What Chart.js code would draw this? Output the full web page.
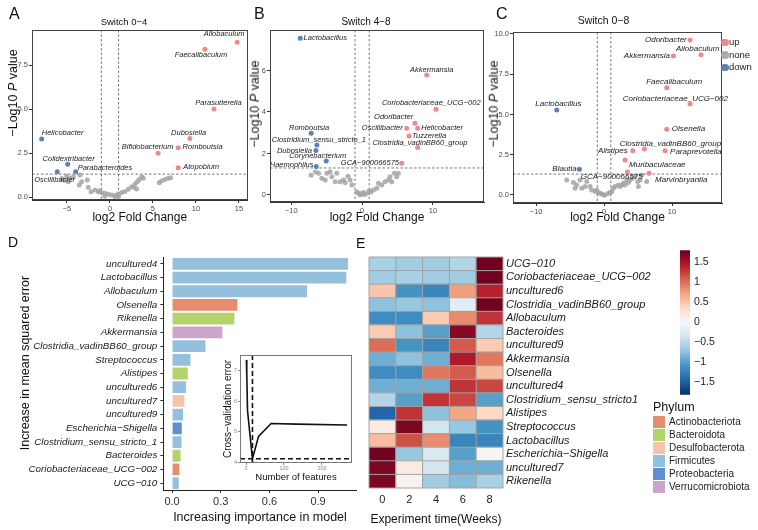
<!DOCTYPE html>
<html>
<head>
<meta charset="utf-8">
<script src="https://cdn.jsdelivr.net/npm/chart.js@4.4.1/dist/chart.umd.min.js"></script>
<style>
  body { margin: 0; background: #fff; font-family: "Liberation Sans", Arial, sans-serif; }
  #wrap { position: relative; width: 758px; height: 530px; overflow: hidden; }
  canvas { position: absolute; }
  .txt { position: absolute; white-space: nowrap; color: #111; line-height: 1; }
  .ytitle { position: absolute; white-space: nowrap; color: #111; transform: translate(-50%, -50%) rotate(-90deg); line-height: 1; }
</style>
</head>
<body>
<div id="wrap">
  <canvas id="cA" width="250" height="228" style="left:0;top:0"></canvas>
  <canvas id="cB" width="247" height="228" style="left:248px;top:0"></canvas>
  <canvas id="cC" width="273" height="228" style="left:485px;top:0"></canvas>
  <canvas id="cD" width="370" height="302" style="left:0;top:228px"></canvas>
  <canvas id="cIn" width="148" height="135" style="left:212px;top:350px"></canvas>
  <canvas id="cE" width="300" height="302" style="left:360px;top:228px"></canvas>
  <canvas id="cBar" width="60" height="165" style="left:670px;top:240px"></canvas>

  <div class="txt" style="left:9px;top:6px;font-size:16px">A</div>
  <div class="txt" style="left:254px;top:6px;font-size:16px">B</div>
  <div class="txt" style="left:496px;top:6px;font-size:16px">C</div>
  <div class="txt" style="left:8px;top:235px;font-size:14px">D</div>
  <div class="txt" style="left:356px;top:236px;font-size:14px">E</div>

  <div class="ytitle" style="left:13px;top:93px;font-size:12.5px">&minus;Log10 <i>P</i> value</div>
  <div class="ytitle" style="left:255px;top:104px;font-size:12.5px">&minus;Log10 <i>P</i> value</div>
  <div class="ytitle" style="left:494px;top:104px;font-size:12.5px">&minus;Log10 <i>P</i> value</div>
  <div class="ytitle" style="left:25px;top:363px;font-size:12.5px">Increase in mean squared error</div>
  <div id="legC"></div>
  <div id="legPhylum"></div>
</div>

<script>
const FONT = '"Liberation Sans", Arial, sans-serif';
Chart.defaults.font.family = FONT;
Chart.defaults.color = '#222';

// thresholds used in the volcano plots
const fcCut = 1;
const pCut = 1.3;

// A: Switch 0-4 (labelled genera)
const aNames = ['Allobaculum', 'Faecalibaculum', 'Parasutterella', 'Dubosiella', 'Romboutsia', 'Bifidobacterium', 'Atopobium', 'Helicobacter', 'Colidextribacter', 'Parabacteroides', 'Oscillibacter'];
const aFC = [14.8, 11.05, 12.1, 9.3, 7.94, 5.6, 7.94, -7.94, -4.92, -3.99, -6.13];
const aP = [8.8, 8.4, 5.0, 3.33, 2.8, 2.48, 1.66, 3.3, 1.86, 1.44, 1.44];
// A: the rest (not significant)
const aGreyFC = [-5.04, -4.65, -4.26, -4.84, -3.49, -3.3, -3.57, -2.64, -2.52, -1.74, -1.36, -0.97, -0.58, -0.19, 0.19, 0.58, 0.97, 1.36, 1.74, 2.13, 2.52, 2.91, 3.18, 3.41, 3.68, 3.88, 5.74, 6.01, 6.4, 6.78, 7.05, -5.3, -5.6, -2.2, -1.2, -0.6, 0.6, 1.0, 2.8, 3.1];
const aGreyP = [1.19, 1.06, 1.15, 0.87, 1.25, 0.87, 0.68, 0.97, 0.55, 0.4, 0.3, 0.25, 0.21, 0.15, 0.11, 0.1, 0.17, 0.25, 0.32, 0.44, 0.59, 0.74, 0.87, 1.0, 1.15, 1.06, 0.81, 0.93, 1.0, 1.06, 1.1, 0.95, 1.05, 0.3, 0.35, 0.05, 0.02, 0.05, 0.55, 0.45];

// B: Switch 4-8
const bNames = ['Lactobacillus', 'Akkermansia', 'Coriobacteriaceae_UCG\u2212002', 'Odoribacter', 'Oscillibacter', 'Helicobacter', 'Tuzzerella', 'Clostridia_vadinBB60_group', 'GCA\u2212900066575', 'Romboutsia', 'Clostridium_sensu_stricto_1', 'Dubosiella', 'Corynebacterium', 'Haemophilus'];
const bFC = [-8.73, 9.11, 10.42, 7.46, 6.29, 7.84, 6.62, 7.84, 5.59, -7.18, -6.38, -6.52, -5.07, -6.48];
const bP = [7.55, 5.78, 4.13, 3.45, 3.21, 3.21, 2.84, 2.29, 1.53, 2.97, 2.41, 2.14, 1.64, 1.37];
const bGreyFC = [-6.15, -5.68, -5.21, -4.98, -4.51, -4.27, -3.8, -3.57, -3.1, -2.63, -2.39, -1.69, -1.45, -0.75, -0.52, -0.28, 0.05, 0.42, 0.89, 1.27, 1.6, 2.07, 2.3, 2.77, 3.24, 3.71, 3.94, 4.18, 4.55, 4.88, 5.11, -7.2, -6.6, -2.0, 0.2, -0.1, 1.0];
const bGreyP = [1.05, 0.8, 0.72, 1.05, 1.12, 0.88, 0.64, 1.05, 0.64, 0.72, 0.59, 0.72, 0.48, 0.16, 0.08, 0.0, 0.05, 0.02, 0.11, 0.16, 0.24, 0.32, 0.56, 0.48, 0.64, 0.72, 0.88, 0.64, 1.05, 0.88, 1.05, 0.95, 1.1, 0.9, 0.12, 0.07, 0.2];

// C: Switch 0-8
const cNames = ['Odoribacter', 'Allobaculum', 'Akkermansia', 'Faecalibaculum', 'Coriobacteriaceae_UCG\u2212002', 'Olsenella', 'Clostridia_vadinBB60_group', 'Alistipes', 'Paraprevotella', 'Muribaculaceae', 'GCA\u2212900066575', 'Marvinbryantia', 'Lactobacillus', 'Blautia'];
const cFC = [12.65, 14.26, 10.19, 9.22, 12.65, 9.22, 5.93, 4.22, 8.97, 3.09, 3.43, 6.62, -6.96, -3.63];
const cP = [9.63, 8.7, 8.63, 6.66, 5.65, 4.08, 2.86, 2.75, 2.75, 2.17, 1.43, 1.35, 5.28, 1.6];
const cGreyFC = [-5.49, -4.51, -4.26, -4.02, -3.53, -3.28, -2.79, -2.55, -2.06, -1.81, -1.32, -1.08, -0.83, -0.59, -0.34, -0.1, 0.15, 0.64, 0.88, 1.13, 1.37, 1.62, 2.1, 2.35, 2.6, 2.84, 3.09, 3.33, 3.58, 3.82, 4.17, 4.56, 4.95, 5.29, 5.54, 6.27, 5.05];
const cGreyP = [0.93, 0.77, 0.41, 0.62, 0.93, 0.41, 0.52, 0.83, 0.52, 0.31, 0.21, 0.31, 0.14, 0.1, 0.06, 0.0, 0.0, 0.1, 0.14, 0.21, 0.41, 0.52, 0.62, 0.52, 0.62, 0.72, 0.62, 0.93, 0.77, 0.93, 1.03, 1.14, 0.83, 0.93, 1.24, 0.83, 0.52];

// D: random forest importance
const dGenus = ['uncultured4', 'Lactobacillus', 'Allobaculum', 'Olsenella', 'Rikenella', 'Akkermansia', 'Clostridia_vadinBB60_group', 'Streptococcus', 'Alistipes', 'uncultured6', 'uncultured7', 'uncultured9', 'Escherichia\u2212Shigella', 'Clostridium_sensu_stricto_1', 'Bacteroides', 'Coriobacteriaceae_UCG\u2212002', 'UCG\u2212010'];
const dImportance = [1.084, 1.074, 0.832, 0.403, 0.384, 0.310, 0.206, 0.113, 0.097, 0.086, 0.076, 0.068, 0.060, 0.058, 0.052, 0.045, 0.041];
const dPhylum = ['Firmicutes', 'Firmicutes', 'Firmicutes', 'Actinobacteriota', 'Bacteroidota', 'Verrucomicrobiota', 'Firmicutes', 'Firmicutes', 'Bacteroidota', 'Firmicutes', 'Desulfobacterota', 'Firmicutes', 'Proteobacteria', 'Firmicutes', 'Bacteroidota', 'Actinobacteriota', 'Firmicutes'];
const dTicks = [0, 0.3, 0.6, 0.9];

// D inset: cross-validation
const cvFeatures = [1, 2, 4, 8, 17, 33, 66, 133, 266];
const cvError = [7.35, 6.9, 5.7, 5.2, 4.12, 4.85, 5.27, 5.25, 5.22];
const cvBest = 17;
const cvMin = 4.12;

// E: heatmap, rows top to bottom, columns = weeks
const hmRows = ['UCG\u2212010', 'Coriobacteriaceae_UCG\u2212002', 'uncultured6', 'Clostridia_vadinBB60_group', 'Allobaculum', 'Bacteroides', 'uncultured9', 'Akkermansia', 'Olsenella', 'uncultured4', 'Clostridium_sensu_stricto1', 'Alistipes', 'Streptococcus', 'Lactobacillus', 'Escherichia\u2212Shigella', 'uncultured7', 'Rikenella'];
const hmWeeks = ['0', '2', '4', '6', '8'];
const hmValues = [
  [-0.6, -0.65, -0.65, -0.55, 1.75],
  [-0.65, -0.6, -0.65, -0.65, 1.75],
  [0.5, -1.1, -1.2, 0.75, 1.4],
  [-0.75, -0.7, -0.75, -0.2, 1.75],
  [-1.15, -1.15, 0.45, 0.85, 1.3],
  [0.45, -0.75, -1.0, 1.65, -0.55],
  [1.0, -1.1, -1.2, 1.1, 0.45],
  [-0.9, -0.75, -0.9, 1.45, 0.95],
  [-1.15, -1.15, 0.95, 1.1, 0.55],
  [-0.9, -0.9, -0.9, 1.3, 1.2],
  [-0.55, -1.0, 1.3, 1.2, -1.0],
  [-1.45, 1.3, -0.75, 0.7, 0.35],
  [0.15, 1.7, -0.35, -0.7, -1.1],
  [0.55, 1.15, 0.85, -1.2, -1.2],
  [1.75, -0.7, -0.3, -1.0, 0.02],
  [1.7, 0.15, -0.35, -0.9, -0.9],
  [1.7, 0.05, -0.65, -0.8, -0.6]
];
const cbTicks = [-1.5, -1, -0.5, 0, 0.5, 1, 1.5];
const cbMin = -1.82, cbMax = 1.8;

const phyla = ['Actinobacteriota', 'Bacteroidota', 'Desulfobacterota', 'Firmicutes', 'Proteobacteria', 'Verrucomicrobiota'];
const phylumColor = {
  Actinobacteriota: '#E68D6E', Bacteroidota: '#B3D46B', Desulfobacterota: '#F6C3AC',
  Firmicutes: '#93C0DC', Proteobacteria: '#608FD0', Verrucomicrobiota: '#CDA4CB'
};
const colUp = '#EF8A88', colNone = 'rgba(165,165,165,0.85)', colDown = '#5C80B9';
const rdbu = ['#053061', '#2166AC', '#4393C3', '#92C5DE', '#D1E5F0', '#F7F7F7', '#FDDBC7', '#F4A582', '#D6604D', '#B2182B', '#67001F'];

function minus(v) { return String(v).replace('-', '\u2212'); }

function hex2rgb(h) { return [1, 3, 5].map(i => parseInt(h.substr(i, 2), 16)); }
function heatColor(v) {
  let t = (v - cbMin) / (cbMax - cbMin) * (rdbu.length - 1);
  t = Math.max(0, Math.min(rdbu.length - 1, t));
  const i = Math.min(Math.floor(t), rdbu.length - 2), f = t - i;
  const a = hex2rgb(rdbu[i]), b = hex2rgb(rdbu[i + 1]);
  return 'rgb(' + a.map((c, k) => Math.round(c + (b[k] - c) * f)).join(',') + ')';
}

function frame(color) {
  return { id: 'frame', afterDraw(chart) {
    const a = chart.chartArea, ctx = chart.ctx;
    ctx.save();
    ctx.strokeStyle = color; ctx.lineWidth = 1;
    ctx.strokeRect(Math.round(a.left) + 0.5, Math.round(a.top) + 0.5, Math.round(a.right - a.left) - 1, Math.round(a.bottom - a.top) - 1);
    ctx.restore();
  }};
}

const threshLines = { id: 'thresh', beforeDatasetsDraw(chart) {
  const { ctx, chartArea: a, scales: { x, y } } = chart;
  ctx.save();
  ctx.strokeStyle = '#555'; ctx.lineWidth = 0.8; ctx.setLineDash([2.5, 2]);
  [-fcCut, fcCut].forEach(v => {
    const px = x.getPixelForValue(v);
    ctx.beginPath(); ctx.moveTo(px, a.top); ctx.lineTo(px, a.bottom); ctx.stroke();
  });
  const py = y.getPixelForValue(pCut);
  ctx.beginPath(); ctx.moveTo(a.left, py); ctx.lineTo(a.right, py); ctx.stroke();
  ctx.restore();
}};

function pointLabels(names, fc, p, pos, size) {
  return { id: 'pointLabels', afterDatasetsDraw(chart) {
    const { ctx, scales: { x, y } } = chart;
    ctx.save();
    ctx.font = 'italic ' + size + 'px ' + FONT;
    ctx.fillStyle = '#1a1a1a';
    ctx.textBaseline = 'middle';
    names.forEach((n, i) => {
      ctx.textAlign = pos[i][2];
      ctx.fillText(n, x.getPixelForValue(fc[i]) + pos[i][0], y.getPixelForValue(p[i]) + pos[i][1]);
    });
    ctx.restore();
  }};
}

function volcano(id, o) {
  const up = [], down = [], none = [];
  o.fc.forEach((v, i) => {
    const pt = { x: v, y: o.p[i] };
    if (o.p[i] > pCut && v > fcCut) up.push(pt);
    else if (o.p[i] > pCut && v < -fcCut) down.push(pt);
    else none.push(pt);
  });
  o.greyFC.forEach((v, i) => none.push({ x: v, y: o.greyP[i] }));
  const pt = { pointRadius: 2.5, borderWidth: 0, pointHoverRadius: 2.5 };
  new Chart(document.getElementById(id), {
    type: 'scatter',
    data: { datasets: [
      Object.assign({ label: 'none', data: none, backgroundColor: colNone }, pt),
      Object.assign({ label: 'up', data: up, backgroundColor: colUp }, pt),
      Object.assign({ label: 'down', data: down, backgroundColor: colDown }, pt)
    ]},
    options: {
      responsive: false, animation: false,
      layout: { padding: { left: 0, right: o.padRight, top: 0, bottom: 0 } },
      plugins: {
        legend: { display: false }, tooltip: { enabled: false },
        title: { display: true, text: o.title, color: '#111', font: { size: o.titleSize, weight: 'normal' },
                 padding: { top: o.titleTop, bottom: o.areaTop - o.titleTop - o.titleSize * 1.2 } }
      },
      scales: {
        x: {
          type: 'linear', min: o.xr[0], max: o.xr[1],
          afterBuildTicks: s => { s.ticks = o.xTicks.map(v => ({ value: v })); },
          afterFit: s => { s.height = 228 - o.areaBottom; },
          ticks: { font: { size: o.tickSize }, color: '#4d4d4d', padding: 1, maxRotation: 0, callback: v => minus(v) },
          grid: { drawOnChartArea: false, tickLength: 3, color: '#333' },
          border: { color: '#333' },
          title: { display: true, text: 'log2 Fold Change', color: '#111', font: { size: 12 }, padding: { top: 0, bottom: 3 } }
        },
        y: {
          type: 'linear', min: o.yr[0], max: o.yr[1],
          afterBuildTicks: s => { s.ticks = o.yTicks.map(v => ({ value: v })); },
          afterFit: s => { s.width = o.yWidth; },
          ticks: { font: { size: o.tickSize }, color: '#4d4d4d', padding: 1, callback: v => o.yDec ? v.toFixed(1) : String(v) },
          grid: { drawOnChartArea: false, tickLength: 3, color: '#333' },
          border: { color: '#333' }
        }
      }
    },
    plugins: [threshLines, pointLabels(o.names, o.fc, o.p, o.labelPos, o.labelSize), frame('#444')]
  });
}

volcano('cA', {
  title: 'Switch 0\u22124', titleSize: 9.5, titleTop: 17, areaTop: 30, areaBottom: 200,
  names: aNames, fc: aFC, p: aP, greyFC: aGreyFC, greyP: aGreyP,
  labelPos: [[-13, -8, 'center'], [-4, 5.5, 'center'], [4.5, -6.3, 'center'], [-1.3, -5, 'center'], [4.4, -1, 'left'], [-10.5, -6, 'center'], [5, -1, 'left'], [0, -6, 'left'], [1, -5, 'center'], [2, -3.4, 'left'], [-2.6, 8.3, 'center']],
  xr: [-9.07, 16.0], yr: [-0.17, 9.49], xTicks: [-5, 0, 5, 10, 15], yTicks: [0, 2.5, 5, 7.5], yDec: true,
  yWidth: 32, padRight: 2, tickSize: 7.5, labelSize: 7.5
});
volcano('cB', {
  title: 'Switch 4\u22128', titleSize: 10, titleTop: 16.7, areaTop: 30, areaBottom: 202,
  names: bNames, fc: bFC, p: bP, greyFC: bGreyFC, greyP: bGreyP,
  labelPos: [[3.3, 0, 'left'], [5, -5, 'center'], [-4.7, -6, 'center'], [-1.7, -6, 'right'], [-4, 0, 'right'], [3.6, 0, 'left'], [3, 0, 'left'], [2.3, -4.7, 'center'], [-2.7, 0, 'right'], [-2.2, -5, 'center'], [2, -5, 'center'], [-4, 0, 'right'], [-8.5, -5.3, 'center'], [-2.7, -1.7, 'right']],
  xr: [-13.0, 17.2], yr: [-0.34, 7.95], xTicks: [-10, 0, 10], yTicks: [0, 2, 4, 6], yDec: false,
  yWidth: 22, padRight: 11, tickSize: 7.5, labelSize: 7.5
});
volcano('cC', {
  title: 'Switch 0\u22128', titleSize: 10.5, titleTop: 14.4, areaTop: 32, areaBottom: 203,
  names: cNames, fc: cFC, p: cP, greyFC: cGreyFC, greyP: cGreyP,
  labelPos: [[-3.3, 0, 'right'], [-3.3, -6, 'center'], [-3.3, 0, 'right'], [7.5, -6, 'center'], [-14.7, -5, 'center'], [5, 0, 'left'], [26, -4.7, 'center'], [-5, 0, 'right'], [5, 1, 'left'], [4, 4.3, 'left'], [-15.6, 4.7, 'center'], [6, 6.7, 'left'], [1.6, -5.7, 'center'], [-2.6, 0, 'right']],
  xr: [-13.4, 17.35], yr: [-0.5, 10.12], xTicks: [-10, 0, 10], yTicks: [0, 2.5, 5, 7.5, 10], yDec: true,
  yWidth: 28, padRight: 36, tickSize: 7.5, labelSize: 8
});

// legend of panel C
(function () {
  const box = document.getElementById('legC');
  [['up', colUp], ['none', '#ABABAB'], ['down', colDown]].forEach((it, i) => {
    const y = 42.3 + i * 12.5;
    const dot = document.createElement('div');
    dot.style.cssText = 'position:absolute;left:721px;top:' + (y - 3.8) + 'px;width:7.6px;height:7.6px;border-radius:50%;background:' + it[1];
    const t = document.createElement('div');
    t.className = 'txt';
    t.style.cssText = 'left:729px;top:' + (y - 5) + 'px;font-size:9.5px;color:#222';
    t.textContent = it[0];
    box.appendChild(dot); box.appendChild(t);
  });
})();

// D: importance bars
new Chart(document.getElementById('cD'), {
  type: 'bar',
  data: { labels: dGenus, datasets: [{ data: dImportance, backgroundColor: dPhylum.map(p => phylumColor[p]), borderWidth: 0, barPercentage: 0.86, categoryPercentage: 1 }] },
  options: {
    indexAxis: 'y', responsive: false, animation: false,
    layout: { padding: { left: 0, right: 13.3, top: 29, bottom: 0 } },
    plugins: { legend: { display: false }, tooltip: { enabled: false } },
    scales: {
      x: {
        type: 'linear', min: -0.054, max: 1.138,
        afterBuildTicks: s => { s.ticks = dTicks.map(v => ({ value: v })); },
        afterFit: s => { s.height = 40; },
        ticks: { font: { size: 11 }, color: '#333', padding: 2, callback: v => v.toFixed(1) },
        grid: { drawOnChartArea: false, tickLength: 3, color: '#333' },
        border: { color: '#222' },
        title: { display: true, text: 'Increasing importance in model', color: '#111', font: { size: 12.5 }, padding: { top: 0, bottom: 4.5 } }
      },
      y: {
        afterFit: s => { s.width = 163.3; },
        ticks: { font: { size: 9.8, style: 'italic' }, color: '#1a1a1a', padding: 3, autoSkip: false },
        grid: { drawOnChartArea: false, tickLength: 3, color: '#333', offset: false },
        border: { color: '#222' }
      }
    }
  }
});

// D inset: cross-validation error
const insetLines = { id: 'insetLines', beforeDatasetsDraw(chart) {
  const { ctx, chartArea: a, scales: { x, y } } = chart;
  ctx.save();
  ctx.strokeStyle = '#111'; ctx.lineWidth = 1.6; ctx.setLineDash([5, 3]);
  const px = x.getPixelForValue(cvBest), py = y.getPixelForValue(cvMin);
  ctx.beginPath(); ctx.moveTo(px, a.top); ctx.lineTo(px, a.bottom); ctx.stroke();
  ctx.beginPath(); ctx.moveTo(a.left, py); ctx.lineTo(a.right, py); ctx.stroke();
  ctx.restore();
}};
new Chart(document.getElementById('cIn'), {
  type: 'scatter',
  data: { datasets: [{ data: cvFeatures.map((f, i) => ({ x: f, y: cvError[i] })), showLine: true, pointRadius: 0, borderColor: '#111', borderWidth: 1.6, tension: 0 }] },
  options: {
    responsive: false, animation: false,
    layout: { padding: { left: 0, right: 8, top: 5, bottom: 0 } },
    plugins: { legend: { display: false }, tooltip: { enabled: false } },
    scales: {
      x: {
        type: 'linear', min: -15.8, max: 279,
        afterBuildTicks: s => { s.ticks = [0, 100, 200].map(v => ({ value: v })); },
        afterFit: s => { s.height = 22; },
        ticks: { font: { size: 5.5 }, color: '#888', padding: 0 },
        grid: { drawOnChartArea: false, tickLength: 2, color: '#888' },
        border: { display: false },
        title: { display: true, text: 'Number of features', color: '#111', font: { size: 9.5 }, padding: { top: 0, bottom: 2.3 } }
      },
      y: {
        type: 'linear', min: 3.98, max: 7.51,
        afterBuildTicks: s => { s.ticks = [4, 5, 6, 7].map(v => ({ value: v })); },
        afterFit: s => { s.width = 28; },
        ticks: { font: { size: 5.5 }, color: '#888', padding: 1 },
        grid: { drawOnChartArea: false, tickLength: 2, color: '#888' },
        border: { display: false },
        title: { display: true, text: 'Cross\u2212validation error', color: '#111', font: { size: 10 }, padding: { top: 10, bottom: 0 } }
      }
    }
  },
  plugins: [insetLines, frame('#777')]
});

// E: heatmap as stacked unit bars, coloured by value
const hmDatasets = hmRows.map((name, i) => ({
  label: name,
  data: hmWeeks.map(() => 1),
  backgroundColor: hmValues[i].map(heatColor),
  borderWidth: 0, barPercentage: 1, categoryPercentage: 1
})).reverse();

// grey cell borders, placed with the chart's own scales
const cellLines = { id: 'cellLines', afterDatasetsDraw(chart) {
  const { ctx, chartArea: a, scales: { x, y } } = chart;
  ctx.save();
  ctx.strokeStyle = '#a3a3a3'; ctx.lineWidth = 1;
  for (let i = 0; i <= hmRows.length; i++) {
    const py = y.getPixelForValue(i);
    ctx.beginPath(); ctx.moveTo(a.left, py); ctx.lineTo(a.right, py); ctx.stroke();
  }
  for (let j = 0; j <= hmWeeks.length; j++) {
    const px = x.getPixelForValue(j - 0.5);
    ctx.beginPath(); ctx.moveTo(px, a.top); ctx.lineTo(px, a.bottom); ctx.stroke();
  }
  ctx.restore();
}};

new Chart(document.getElementById('cE'), {
  type: 'bar',
  data: { labels: hmWeeks, datasets: hmDatasets },
  options: {
    responsive: false, animation: false,
    layout: { padding: { left: 9, right: 0, top: 29, bottom: 0 } },
    plugins: { legend: { display: false }, tooltip: { enabled: false } },
    scales: {
      x: {
        stacked: true,
        afterFit: s => { s.height = 42; },
        ticks: { font: { size: 11 }, color: '#222', padding: 5 },
        grid: { display: false, drawTicks: false, tickLength: 0 },
        border: { display: false },
        title: { display: true, text: 'Experiment time(Weeks)', color: '#111', font: { size: 12 }, padding: { top: 0, bottom: 2.8 } }
      },
      y: {
        stacked: true, position: 'right', min: 0, max: hmRows.length,
        afterBuildTicks: s => { s.ticks = hmRows.map((_, i) => ({ value: i + 0.5 })); },
        afterFit: s => { s.width = 157; },
        ticks: { font: { size: 11, style: 'italic' }, color: '#1a1a1a', padding: 3, autoSkip: false,
                 callback: v => hmRows[hmRows.length - 1 - Math.floor(v)] },
        grid: { display: false, drawTicks: false, tickLength: 0 },
        border: { display: false }
      }
    }
  },
  plugins: [cellLines]
});

// E: colour bar
new Chart(document.getElementById('cBar'), {
  type: 'bar',
  data: { labels: [''], datasets: [{
    data: [[cbMin, cbMax]], borderWidth: 0, barPercentage: 1, categoryPercentage: 1,
    backgroundColor: ctx => {
      const a = ctx.chart.chartArea;
      if (!a) return '#fff';
      const g = ctx.chart.ctx.createLinearGradient(0, a.bottom, 0, a.top);
      rdbu.forEach((c, i) => g.addColorStop(i / (rdbu.length - 1), c));
      return g;
    }
  }] },
  options: {
    responsive: false, animation: false,
    layout: { padding: { left: 10, right: 0, top: 10, bottom: 8 } },
    plugins: { legend: { display: false }, tooltip: { enabled: false } },
    scales: {
      x: { display: false },
      y: {
        position: 'right', min: cbMin, max: cbMax,
        afterBuildTicks: s => { s.ticks = cbTicks.map(v => ({ value: v })); },
        afterFit: s => { s.width = 40; },
        ticks: { font: { size: 10.5 }, color: '#222', padding: 4, callback: v => minus(v) },
        grid: { display: false, drawTicks: false, tickLength: 0 },
        border: { display: false }
      }
    }
  }
});

// phylum legend
(function () {
  const box = document.getElementById('legPhylum');
  const t = document.createElement('div');
  t.className = 'txt';
  t.style.cssText = 'left:653px;top:401px;font-size:12.5px;color:#111';
  t.textContent = 'Phylum';
  box.appendChild(t);
  phyla.forEach((p, i) => {
    const y = 422 + i * 13;
    const sw = document.createElement('div');
    sw.style.cssText = 'position:absolute;left:653px;top:' + (y - 6) + 'px;width:12px;height:12px;background:' + phylumColor[p];
    const l = document.createElement('div');
    l.className = 'txt';
    l.style.cssText = 'left:669px;top:' + (y - 5.5) + 'px;font-size:10px;color:#222';
    l.textContent = p;
    box.appendChild(sw); box.appendChild(l);
  });
})();
</script>
</body>
</html>
